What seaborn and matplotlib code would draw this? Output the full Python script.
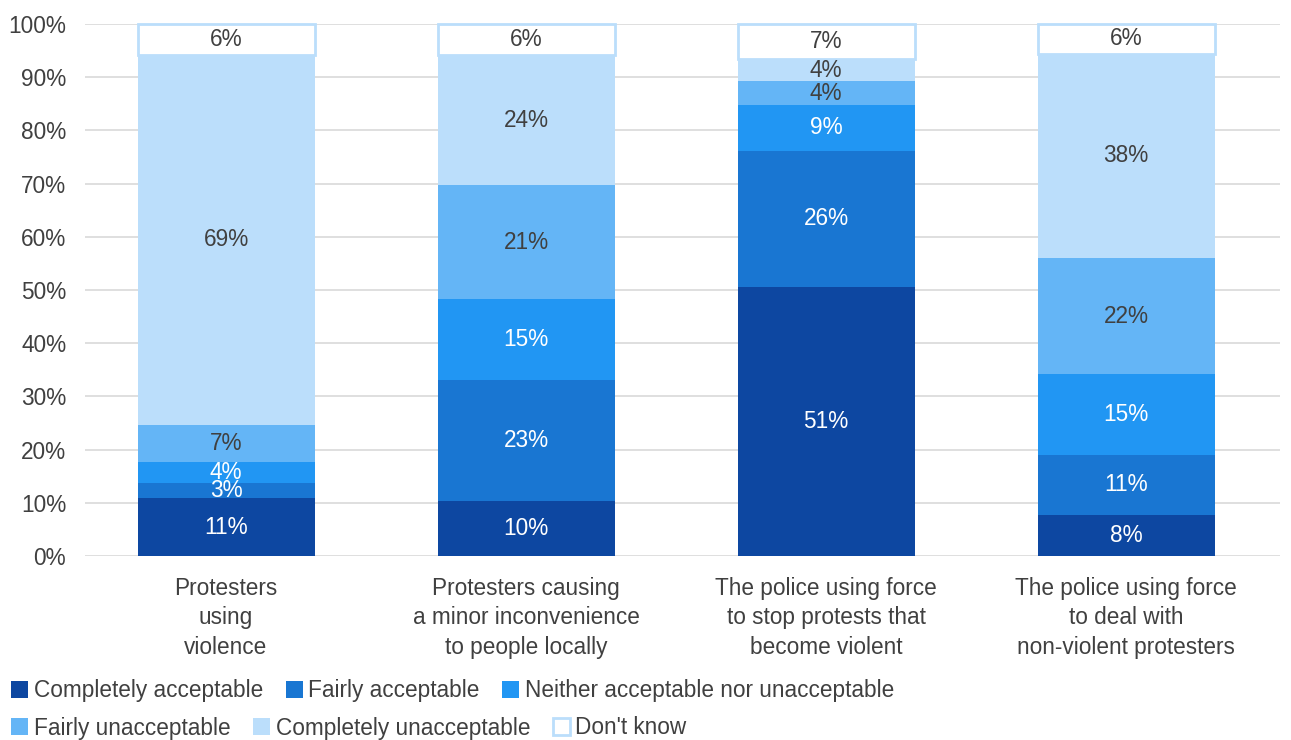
import numpy as np
import pandas as pd
import matplotlib
matplotlib.use("Agg")
import matplotlib.pyplot as plt
import seaborn as sns

# Survey questions (x categories)
questions = [
    "Protesters\nusing\nviolence",
    "Protesters causing\na minor inconvenience\nto people locally",
    "The police using force\nto stop protests that\nbecome violent",
    "The police using force\nto deal with\nnon-violent protesters",
]

responses = [
    "Completely acceptable",
    "Fairly acceptable",
    "Neither acceptable nor unacceptable",
    "Fairly unacceptable",
    "Completely unacceptable",
    "Don't know",
]

# Share of respondents (%) per response, one value per question
completely_acceptable = [10.9, 10.3, 50.6, 7.7]
fairly_acceptable = [2.8, 22.7, 25.6, 11.3]
neither = [3.9, 15.3, 8.6, 15.2]
fairly_unacceptable = [7.1, 21.4, 4.4, 21.8]
completely_unacceptable = [69.4, 24.4, 4.2, 38.4]
dont_know = [5.9, 5.9, 6.6, 5.6]

series = [completely_acceptable, fairly_acceptable, neither,
          fairly_unacceptable, completely_unacceptable, dont_know]

fills = ["#0D47A1", "#1976D2", "#2196F3", "#64B5F6", "#BBDEFB", "#FFFFFF"]
edges = [None, None, None, None, None, "#BBDEFB"]
label_colors = ["white", "white", "white", "#404040", "#404040", "#404040"]

tick_labels = [f"{v}%" for v in range(0, 101, 10)]

sns.set_theme(style="white")
plt.rcParams["font.family"] = ["Liberation Sans", "DejaVu Sans"]
text_color = "#404040"
fs = 16.3

fig = plt.figure(figsize=(12.91, 7.40), dpi=100)
ax = fig.add_axes([85 / 1291, 1 - 556 / 740, (1280 - 85) / 1291, (556 - 24) / 740])

bottom = np.zeros(len(questions))
containers = []
for name, vals, fc, ec, lc in zip(responses, series, fills, edges, label_colors):
    df = pd.DataFrame({"question": questions, "share": vals})
    kws = dict(edgecolor=ec, linewidth=2) if ec else dict(linewidth=0)
    sns.barplot(data=df, x="question", y="share", color=fc, saturation=1,
                width=0.59, bottom=bottom.copy(), ax=ax, label=name,
                errorbar=None, **kws)
    cont = ax.containers[-1]
    for p in cont:
        p.set_facecolor(fc)
        p.set_clip_on(False)
        p.set_zorder(3)
    containers.append(cont)
    ax.bar_label(cont, labels=[f"{v:.0f}%" for v in vals], label_type="center",
                 color=lc, fontsize=fs, zorder=5)
    bottom += np.array(vals)

ax.set_ylim(0, 100)
ax.set_xlim(-0.47, 3.513)
ax.set_yticks(range(0, 101, 10))
ax.set_yticklabels(tick_labels)
ax.set_xlabel("")
ax.set_ylabel("")
ax.yaxis.grid(True, color="#D9D9D9", linewidth=1.2)
ax.set_axisbelow(True)
for s in ax.spines.values():
    s.set_visible(False)
ax.tick_params(axis="y", length=0, pad=13.5, labelsize=fs, labelcolor=text_color)
ax.tick_params(axis="x", length=0, pad=15, labelsize=fs, labelcolor=text_color)
for t in ax.get_xticklabels():
    t.set_linespacing(1.36)

lg = ax.get_legend()
if lg is not None:
    lg.remove()

common = dict(frameon=False, fontsize=fs, handlelength=0.75, handleheight=0.75,
              handletextpad=0.25, columnspacing=1.0, borderaxespad=0,
              borderpad=0, labelcolor=text_color)
leg1 = fig.legend(containers[:3], responses[:3], loc="center left", ncol=3,
                  bbox_to_anchor=(11 / 1291, 1 - 691 / 740), **common)
leg2 = fig.legend(containers[3:], responses[3:], loc="center left", ncol=3,
                  bbox_to_anchor=(11 / 1291, 1 - 728 / 740), **common)

fig.savefig("out.png", dpi=100)
